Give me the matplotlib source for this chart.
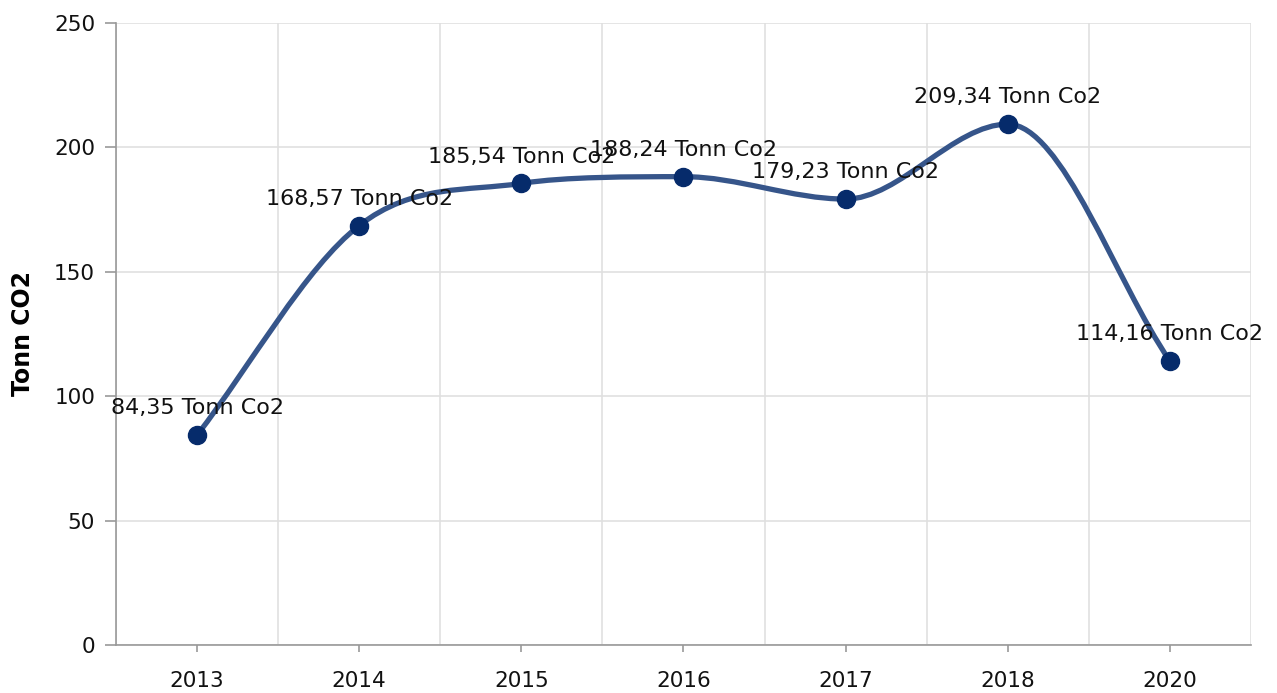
"""CO2-utslipp per år, glattet linje med verdier."""
import matplotlib
matplotlib.use("Agg")
import matplotlib.pyplot as plt
from matplotlib.path import Path
from matplotlib.patches import PathPatch


# %% Data
years = ['2013', '2014', '2015', '2016', '2017', '2018', '2020']
tonn_co2 = [84.35, 168.57, 185.54, 188.24, 179.23, 209.34, 114.16]


# %% Glatt kurve (tangenter som i Kendo sin "smooth" linje)
def smooth_path(xs, ys, weight=1 / 3):
    n = len(xs)
    tang = [0.0] * n
    for i in range(1, n - 1):
        a, b, c = ys[i - 1], ys[i], ys[i + 1]
        if (a < b < c) or (a > b > c):
            tang[i] = (c - a) / (xs[i + 1] - xs[i - 1])
        else:
            tang[i] = 0.0
    # endepunkter: korde mot nabopunktet
    tang[0] = (ys[1] - ys[0]) / (xs[1] - xs[0])
    tang[-1] = (ys[-1] - ys[-2]) / (xs[-1] - xs[-2])

    def clamp(px, py, qx, qy, cx, cy, t):
        lo, hi = min(py, qy), max(py, qy)
        if cy > hi or cy < lo:
            ny = hi if cy > hi else lo
            if t != 0:
                cx = px + (ny - py) / t
            cy = ny
        return cx, cy

    verts = [(xs[0], ys[0])]
    codes = [Path.MOVETO]
    for i in range(n - 1):
        dx = (xs[i + 1] - xs[i]) * weight
        c1 = (xs[i] + dx, ys[i] + tang[i] * dx)
        c2 = (xs[i + 1] - dx, ys[i + 1] - tang[i + 1] * dx)
        if 0 < i:
            c1 = clamp(xs[i], ys[i], xs[i + 1], ys[i + 1], c1[0], c1[1], tang[i])
        if i + 1 < n - 1:
            c2 = clamp(xs[i + 1], ys[i + 1], xs[i], ys[i], c2[0], c2[1], tang[i + 1])
        verts += [c1, c2, (xs[i + 1], ys[i + 1])]
        codes += [Path.CURVE4] * 3
    return Path(verts, codes)


# %% Plot
plt.rcParams['font.family'] = ['DejaVu Sans']
fig = plt.figure(figsize=(12.77, 6.93), dpi=100)
ax = fig.add_axes([0.0908, 0.0693, 0.8888, 0.8975])

xpos = list(range(len(years)))
path = smooth_path(xpos, tonn_co2)
ax.add_patch(PathPatch(path, facecolor='none', edgecolor='#36558a',
                       linewidth=3.8, capstyle='round', zorder=3))
ax.plot(xpos, tonn_co2, linestyle='none', marker='o', markersize=13,
        color='#062b6b', zorder=4)

for x, v in zip(xpos, tonn_co2):
    txt = f"{v:.2f}".replace('.', ',') + " Tonn Co2"
    ax.annotate(txt, (x, v), xytext=(0, 12), textcoords='offset points',
                ha='center', va='bottom', fontsize=16, color='#111111',
                zorder=5)

ax.set_xlim(-0.5, len(years) - 0.5)
ax.set_ylim(0, 250)
ax.set_xticks(xpos)
ax.set_xticklabels(years)
ax.set_xticks([i - 0.5 for i in range(len(years) + 1)], minor=True)
ax.set_yticks([0, 50, 100, 150, 200, 250])

ax.grid(axis='y', color='#e0e0e0', linewidth=1.2)
ax.grid(axis='x', which='minor', color='#e0e0e0', linewidth=1.2)
ax.set_axisbelow(True)

for s in ['top', 'right']:
    ax.spines[s].set_visible(False)
for s in ['left', 'bottom']:
    ax.spines[s].set_color('#999999')
    ax.spines[s].set_linewidth(1.2)

ax.tick_params(axis='y', length=8, color='#999999', width=1.2,
               labelsize=15.5, pad=7, labelcolor='#111111')
ax.tick_params(axis='x', which='major', length=5, color='#999999', width=1.2,
               labelsize=15.5, pad=14, labelcolor='#111111')
ax.tick_params(axis='x', which='minor', length=0)

ax.set_ylabel('Tonn CO2', fontsize=17, fontweight='bold', labelpad=14)

fig.savefig('out.png', dpi=100)
